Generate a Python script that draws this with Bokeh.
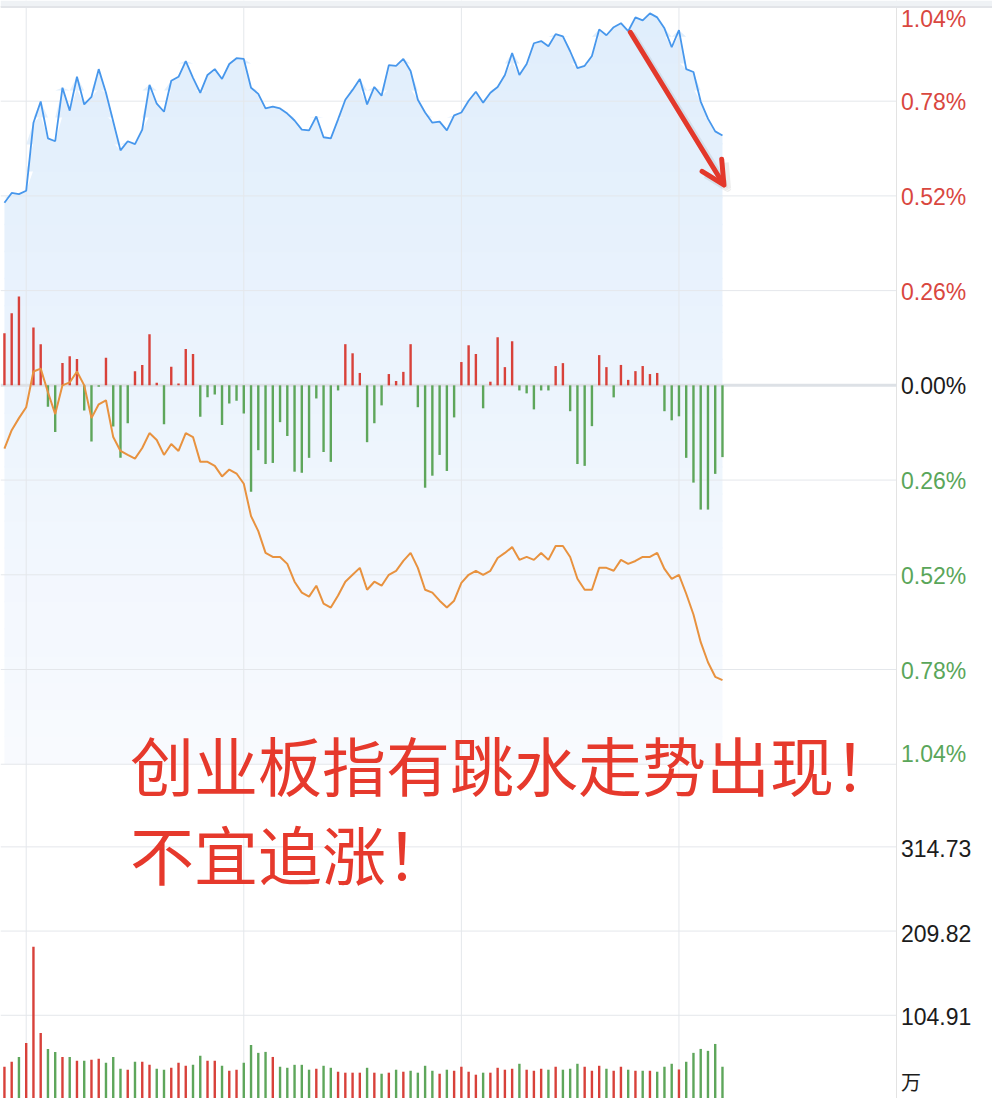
import numpy as np
from bokeh.plotting import figure
from bokeh.models import Range1d, Arrow, OpenHead
from bokeh.embed import file_html
from bokeh.resources import INLINE
from bokeh.core.properties import value

# ---------------- data ----------------
price = [0.501, 0.528, 0.525, 0.534, 0.721, 0.779, 0.678, 0.670, 0.817, 0.754,
         0.847, 0.771, 0.792, 0.868, 0.803, 0.724, 0.645, 0.670, 0.662, 0.702,
         0.825, 0.773, 0.751, 0.836, 0.847, 0.890, 0.844, 0.803, 0.852, 0.868,
         0.841, 0.882, 0.898, 0.896, 0.817, 0.800, 0.760, 0.765, 0.760, 0.746,
         0.727, 0.702, 0.700, 0.738, 0.681, 0.678, 0.730, 0.784, 0.811, 0.841,
         0.771, 0.819, 0.795, 0.879, 0.877, 0.896, 0.863, 0.784, 0.749, 0.721,
         0.724, 0.700, 0.741, 0.749, 0.781, 0.806, 0.776, 0.803, 0.819, 0.852,
         0.912, 0.852, 0.882, 0.939, 0.945, 0.931, 0.964, 0.958, 0.917, 0.871,
         0.877, 0.904, 0.977, 0.961, 0.983, 0.994, 0.972, 1.010, 1.002, 1.021,
         1.010, 0.980, 0.928, 0.975, 0.868, 0.860, 0.779, 0.732, 0.697, 0.686]

avg_line = [-0.174, -0.123, -0.090, -0.060, 0.038, 0.046, -0.019, -0.079, 0.000, 0.008,
            0.038, 0.000, -0.090, -0.052, -0.041, -0.142, -0.180, -0.191, -0.201, -0.172,
            -0.131, -0.150, -0.191, -0.161, -0.180, -0.131, -0.142, -0.210, -0.210, -0.221,
            -0.250, -0.231, -0.242, -0.270, -0.359, -0.400, -0.460, -0.471, -0.471, -0.490,
            -0.539, -0.569, -0.580, -0.550, -0.599, -0.610, -0.577, -0.539, -0.520, -0.501,
            -0.561, -0.539, -0.550, -0.520, -0.509, -0.482, -0.460, -0.501, -0.561, -0.569,
            -0.591, -0.610, -0.591, -0.542, -0.520, -0.509, -0.520, -0.509, -0.474, -0.460,
            -0.444, -0.479, -0.471, -0.479, -0.460, -0.479, -0.441, -0.441, -0.471, -0.531,
            -0.561, -0.561, -0.501, -0.501, -0.509, -0.479, -0.490, -0.482, -0.471, -0.471,
            -0.460, -0.504, -0.531, -0.520, -0.572, -0.629, -0.705, -0.760, -0.800, -0.809]

flow = [0.143, 0.198, 0.244, 0.0, 0.159, 0.113, -0.059, -0.128, 0.061, 0.080,
        0.072, -0.069, -0.154, -0.004, 0.076, -0.113, -0.199, -0.104, 0.039, 0.056,
        0.140, 0.007, -0.107, 0.051, 0.005, 0.100, 0.086, -0.086, -0.033, -0.025,
        -0.109, -0.050, -0.042, -0.077, -0.292, -0.178, -0.216, -0.213, -0.101, -0.139,
        -0.237, -0.240, -0.199, -0.036, -0.183, -0.210, -0.014, 0.113, 0.088, 0.034,
        -0.156, -0.104, -0.055, 0.031, 0.012, 0.037, 0.113, -0.060, -0.281, -0.248,
        -0.191, -0.235, -0.088, 0.064, 0.110, 0.086, -0.063, 0.010, 0.132, 0.050,
        0.121, -0.014, -0.022, -0.066, -0.014, -0.014, 0.053, 0.061, -0.071, -0.216,
        -0.221, -0.112, 0.083, 0.050, -0.033, 0.056, 0.015, 0.039, 0.053, 0.031,
        0.034, -0.071, -0.096, -0.085, -0.199, -0.267, -0.341, -0.341, -0.243, -0.197]

volume = [40.8, 47.0, 53.0, 70.4, 190.3, 82.8, 63.0, 59.3, 53.0, 53.0,
          48.2, 48.2, 49.4, 50.7, 45.7, 53.0, 38.3, 37.1, 47.0, 47.0,
          43.2, 38.3, 37.1, 39.5, 45.7, 42.0, 43.2, 54.4, 48.2, 48.2,
          42.0, 35.8, 37.1, 45.7, 68.0, 58.1, 59.3, 53.0, 40.8, 39.5,
          43.2, 43.2, 37.1, 38.3, 42.0, 39.5, 34.6, 33.4, 33.4, 33.4,
          39.5, 33.4, 32.1, 33.4, 37.1, 34.6, 35.8, 33.4, 42.0, 35.8,
          32.1, 37.1, 35.8, 40.8, 34.6, 30.9, 33.4, 33.4, 39.5, 37.1,
          38.3, 44.5, 37.1, 35.8, 38.3, 37.1, 40.8, 37.1, 38.3, 44.5,
          40.8, 35.8, 42.0, 38.3, 35.8, 40.8, 37.1, 35.8, 35.8, 35.8,
          34.6, 40.8, 44.5, 37.4, 47.0, 58.1, 63.0, 60.6, 69.2, 40.8]

vol_up = [1, 1, 0, 1, 1, 1, 0, 0, 1, 0,
          1, 0, 1, 1, 0, 0, 0, 1, 0, 1,
          1, 0, 0, 1, 1, 1, 0, 0, 1, 1,
          0, 1, 1, 0, 0, 0, 0, 1, 0, 0,
          0, 0, 0, 1, 0, 0, 1, 1, 1, 1,
          0, 1, 0, 1, 0, 1, 0, 0, 0, 0,
          1, 0, 1, 1, 1, 1, 0, 1, 1, 1,
          1, 0, 1, 1, 1, 0, 1, 0, 0, 0,
          1, 1, 1, 0, 1, 1, 0, 1, 0, 1,
          0, 0, 0, 1, 0, 0, 0, 0, 0, 0]

pct_ticks = [1.04, 0.78, 0.52, 0.26, 0.0, -0.26, -0.52, -0.78, -1.04]
pct_labels = ["1.04%", "0.78%", "0.52%", "0.26%", "0.00%", "0.26%", "0.52%", "0.78%", "1.04%"]
vol_ticks = [314.73, 209.82, 104.91, 0.0]
vol_labels = ["314.73", "209.82", "104.91", "万"]
time_grid = [3, 33, 63, 93]

title_line1 = "创业板指有跳水走势出现！"
title_line2 = "不宜追涨！"

# ---------------- styles ----------------
RED = "#d8413a"
GREEN = "#5ea65b"
LBL_RED = "#d9473f"
LBL_GREEN = "#5aa65a"
LBL_BLACK = "#1c1c1c"
GRID = "#e4e7eb"
BLUE = "#4797ec"
ORANGE = "#e8923f"

idx = np.arange(len(price))

Y_TOP, Y_BOT = 1.05633, -1.95748
X_L, X_R = -0.543, 136.23
W, H = 992, 1098
p = figure(width=W, height=H, output_backend="svg", toolbar_location=None,
           x_range=Range1d(X_L, X_R), y_range=Range1d(Y_BOT, Y_TOP),
           x_axis_location=None, y_axis_location=None, min_border=0,
           tools="")
p.min_border_left = p.min_border_right = p.min_border_top = p.min_border_bottom = 0
p.outline_line_color = None
p.xgrid.visible = False
p.ygrid.visible = False
p.background_fill_color = "white"
p.border_fill_color = "white"
p.extra_y_ranges = {"vol": Range1d(1.236, 1369.15)}

x_sep = 122.99
x_lbl = 123.61

# gradient fill under price line (stacked bands)
pr = np.array(price)
lo_all, hi_all = pct_ticks[-1], float(pr.max()) + 0.01
nb = 28
edges = np.linspace(lo_all, hi_all, nb + 1)
c_top = np.array([0xe0, 0xee, 0xfc])
c_bot = np.array([0xf9, 0xfb, 0xff])
for k in range(nb):
    lo, hi = edges[k], edges[k + 1]
    t = (0.5 * (lo + hi) - lo_all) / (1.04 - lo_all)
    t = min(max(t, 0), 1)
    c = (c_bot + (c_top - c_bot) * t).astype(int)
    col = "#%02x%02x%02x" % tuple(c)
    top = np.clip(pr, lo, hi + 0.004)
    p.varea(x=idx, y1=np.full(len(idx), lo), y2=top, fill_color=col)

# grid lines
grid_pct = [t for t in pct_ticks if t != 0.0]
p.segment(x0=[X_L] * len(grid_pct), x1=[x_sep] * len(grid_pct), y0=grid_pct, y1=grid_pct,
          line_color=GRID, line_width=1)
p.segment(x0=[X_L] * 3, x1=[x_sep] * 3, y0=vol_ticks[:3], y1=vol_ticks[:3],
          line_color=GRID, line_width=1, y_range_name="vol")
p.segment(x0=time_grid, x1=time_grid, y0=[Y_BOT] * 4, y1=[Y_TOP] * 4,
          line_color=GRID, line_width=1)
p.segment(x0=[x_sep], x1=[x_sep], y0=[Y_BOT], y1=[Y_TOP], line_color="#e3e3e3", line_width=1)
p.segment(x0=[X_L], x1=[x_sep], y0=[0.0], y1=[0.0], line_color="#dde1e6", line_width=3)

# top frame strip of the screenshot
p.quad(left=[X_L], right=[X_R], bottom=[1.0373], top=[Y_TOP], fill_color="#eff2f5", line_color=None)
p.segment(x0=[X_L], x1=[X_R], y0=[1.0386], y1=[1.0386], line_color="#e2e4e8", line_width=2)

# flow bars
flow_col = [RED if v > 0 else GREEN for v in flow]
p.segment(x0=idx, x1=idx, y0=np.zeros(len(idx)), y1=flow, line_color=flow_col, line_width=2.4)

# lines
p.line(idx, avg_line, line_color=ORANGE, line_width=2)
p.line(idx, price, line_color=BLUE, line_width=1.8)

# volume bars
vol_col = [RED if u else GREEN for u in vol_up]
p.segment(x0=idx, x1=idx, y0=np.zeros(len(idx)), y1=volume, line_color=vol_col,
          line_width=2.4, y_range_name="vol")

# right-side labels
pct_colors = [LBL_RED if t > 0 else (LBL_GREEN if t < 0 else LBL_BLACK) for t in pct_ticks]
pct_off = [13 if t == pct_ticks[0] else (-10 if t == pct_ticks[-1] else 1) for t in pct_ticks]
p.text(x=[x_lbl] * len(pct_ticks), y=pct_ticks, text=pct_labels, text_color=pct_colors,
       text_font=value("Liberation Sans"), text_font_size="23px",
       text_baseline="middle", text_align="left", y_offset=pct_off)
vol_off = [2, 2, 1, -18]
p.text(x=[x_lbl] * 3, y=vol_ticks[:3], text=vol_labels[:3], text_color=LBL_BLACK,
       text_font=value("Liberation Sans"), text_font_size="23px",
       text_baseline="middle", text_align="left", y_offset=vol_off[:3], y_range_name="vol")
p.text(x=[x_lbl], y=vol_ticks[3:], text=vol_labels[3:], text_color=LBL_BLACK,
       text_font=value("Noto Sans CJK SC"), text_font_size="20px",
       text_baseline="middle", text_align="left", y_offset=vol_off[3:], y_range_name="vol")

# annotation text
p.text(x=[17.3], y=[-1.036], text=[title_line1], text_color="#e6392c",
       text_font=value("Noto Sans CJK SC"), text_font_size="64px",
       text_baseline="middle", text_align="left")
p.text(x=[17.3], y=[-1.036], text=[title_line2], text_color="#e6392c",
       text_font=value("Noto Sans CJK SC"), text_font_size="64px",
       text_baseline="middle", text_align="left", y_offset=[89])

# red arrow with soft shadow
p.add_layout(Arrow(x_start=86.7, y_start=0.960, x_end=99.7, y_end=0.541,
                   line_color="#000000", line_alpha=0.07, line_width=7, line_cap="round",
                   end=OpenHead(size=23, line_width=7, line_color="#000000", line_alpha=0.07)))
p.add_layout(Arrow(x_start=86.3, y_start=0.969, x_end=99.2, y_end=0.550,
                   line_color="#e3382b", line_width=5, line_cap="round",
                   end=OpenHead(size=23, line_width=5, line_color="#e3382b", line_cap="round",
                                line_join="round")))

open("out.html", "w").write(file_html(p, INLINE))
